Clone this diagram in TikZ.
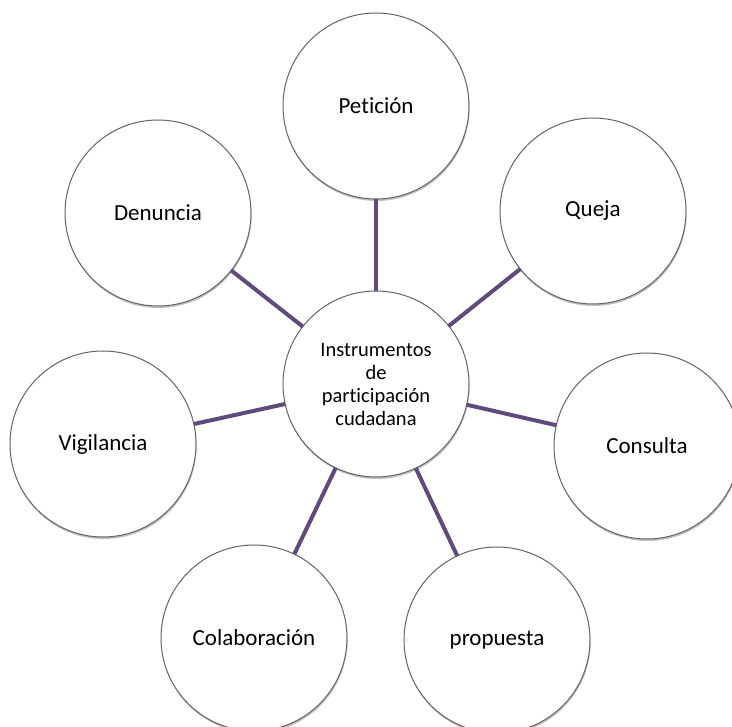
\documentclass[tikz,border=0pt]{standalone}
\usepackage{fontspec}
\setmainfont{Carlito}[Ligatures={NoCommon}]
\usetikzlibrary{shadows,calc}
\definecolor{spoke}{RGB}{96,74,123}
\definecolor{rim}{RGB}{100,100,100}
\begin{document}
\begin{tikzpicture}[x=1pt,y=-1pt,
  bubble/.style={circle, draw=rim, line width=1pt, fill=white,
    minimum size=186pt, inner sep=0pt, outer sep=0pt, align=center,
    font=\fontsize{23}{27}\selectfont,
    drop shadow={shadow xshift=0.6pt, shadow yshift=-2pt, opacity=0.25, fill=black}},
  hub/.style={bubble, font=\fontsize{20.5}{23}\selectfont},
  spokeline/.style={draw=spoke, line width=4pt}]
  \useasboundingbox (0,0) rectangle (732,727);
  \fill[white] (0,0) rectangle (732,727);

  % hub and the seven instruments arranged around it
  \coordinate (o) at (376,384);
  \node[hub] (c) at (o) {Instrumentos\\de\\participación\\cudadana};
  \node[bubble] (pet) at ($(o)+(0,-278)$) {Petición};
  \node[bubble] (que) at ($(o)+(217,-173)$) {Queja};
  \node[bubble] (con) at ($(o)+(271,62)$) {Consulta};
  \node[bubble] (pro) at ($(o)+(121,256)$) {propuesta};
  \node[bubble] (col) at ($(o)+(-122,254)$) {Colaboración};
  \node[bubble] (vig) at ($(o)+(-273,60)$) {Vigilancia};
  \node[bubble] (den) at ($(o)+(-218,-171)$) {Denuncia};

  % spokes from the hub to each instrument
  \foreach \n in {pet,que,con,pro,col,vig,den}
    \draw[spokeline] (c) -- (\n);
\end{tikzpicture}
\end{document}
